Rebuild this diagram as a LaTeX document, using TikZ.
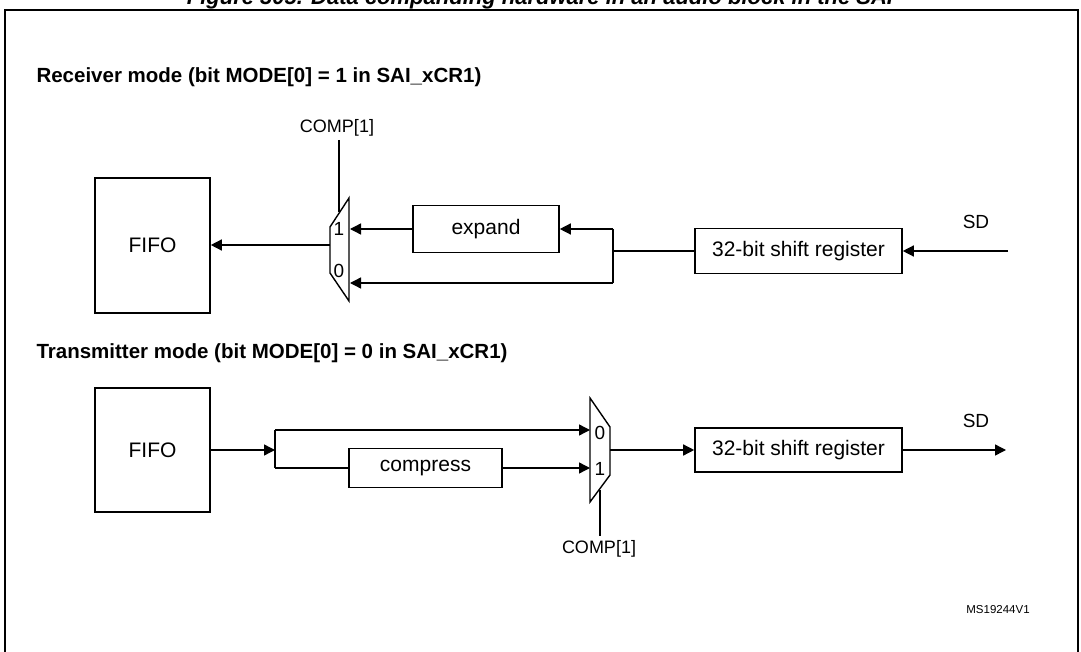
\documentclass[tikz,border=0pt]{standalone}
\usepackage{fontspec}
\setmainfont{Liberation Sans}
\usetikzlibrary{arrows.meta}
\begin{document}
\begin{tikzpicture}[x=1pt,y=-1pt,
  box/.style={draw,line width=1.6pt,inner sep=0pt,font=\fontsize{21}{24}\selectfont},
  mux/.style={draw,line width=1.4pt},
  w/.style={line width=1.4pt},
  arr/.style={w,-{Triangle[length=11pt,width=11pt]}},
  lbl/.style={font=\fontsize{19}{22}\selectfont},
  ttl/.style={font=\bfseries\fontsize{20.5}{23}\selectfont,anchor=west}]
\useasboundingbox (0,0) rectangle (1081,652);
\node[font=\bfseries\itshape\fontsize{22}{24}\selectfont] (fig) at (540,-1) {Figure 305. Data companding hardware in an audio block in the SAI};
\draw[line width=1.2pt] (5,700) -- (5,10) -- (1078,10) -- (1078,700);
% receiver
\node[ttl] (t1) at (33,77) {Receiver mode (bit MODE[0] = 1 in SAI\_xCR1)};
\node[box,minimum width=115pt,minimum height=135pt] (fifo1) at (152.5,245.5) {FIFO};
\draw[mux] (330,227) -- (349,198) -- (349,301) -- (330,273) -- cycle;
\node[lbl] (m1a) at (339,229) {1};
\node[lbl] (m1b) at (339,271) {0};
\node[font=\fontsize{18}{20}\selectfont] (c1) at (337,128) {COMP[1]};
\coordinate (c1e) at (339,212);
\draw[w] (339,140) -- (c1e);
\node[box,minimum width=146pt,minimum height=47pt] (exp) at (486,229) {expand};
\node[box,minimum width=207pt,minimum height=45pt] (sr1) at (798.5,251) {32-bit shift register};
\node[lbl] (sd1) at (976,222) {SD};
\coordinate (in1) at (1008,251);
\coordinate (j1) at (613,251);
\coordinate (j1t) at (613,229);
\coordinate (j1b) at (613,283);
\draw[arr] (in1) -- (sr1.east);
\draw[w] (sr1.west) -- (j1);
\draw[w] (j1t) -- (j1b);
\draw[arr] (j1t) -- (exp.east);
\draw[arr] (exp.west) -- (350,229);
\draw[arr] (j1b) -- (350,283);
\draw[arr] (330,245) -- (fifo1.east |- 0,245);
% transmitter
\node[ttl] (t2) at (33,353) {Transmitter mode (bit MODE[0] = 0 in SAI\_xCR1)};
\node[box,minimum width=115pt,minimum height=124pt] (fifo2) at (152.5,450) {FIFO};
\draw[mux] (590,398) -- (610,427) -- (610,475) -- (590,502) -- cycle;
\node[lbl] (m2a) at (600,433) {0};
\node[lbl] (m2b) at (600,469) {1};
\node[box,minimum width=153pt,minimum height=39pt] (cmp) at (425.5,468) {compress};
\node[box,minimum width=207pt,minimum height=44pt] (sr2) at (798.5,450) {32-bit shift register};
\node[lbl] (sd2) at (976,421) {SD};
\node[font=\fontsize{18}{20}\selectfont] (c2) at (599,549) {COMP[1]};
\draw[w] (600,490) -- (600,536);
\coordinate (j2) at (275,450);
\coordinate (j2t) at (275,430);
\coordinate (j2b) at (275,468);
\draw[arr] (fifo2.east) -- (j2);
\draw[w] (j2t) -- (j2b);
\draw[arr] (j2t) -- (590,430);
\draw[w] (j2b) -- (cmp.west);
\draw[arr] (cmp.east) -- (590,468);
\draw[arr] (610,450) -- (sr2.west);
\coordinate (out2) at (1006,450);
\draw[arr] (sr2.east) -- (out2);
\node[font=\fontsize{11.5}{13}\selectfont] (ms) at (998,610) {MS19244V1};
\end{tikzpicture}
\end{document}
